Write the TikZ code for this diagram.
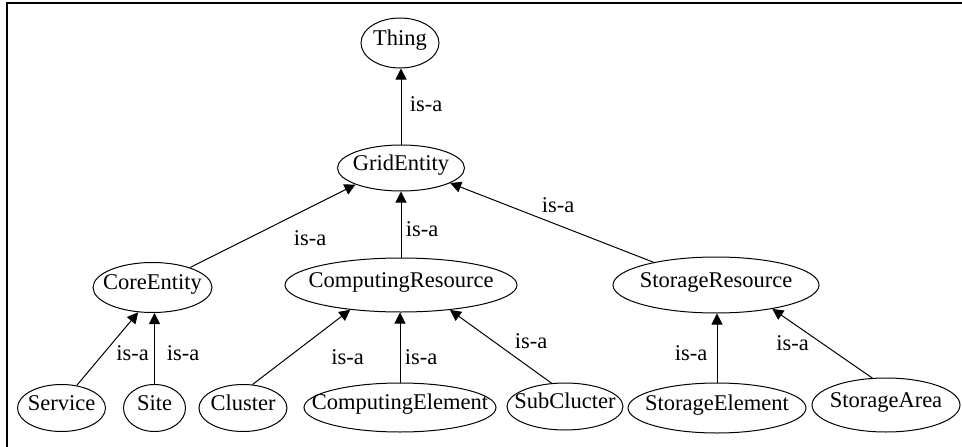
\documentclass[tikz,border=0pt]{standalone}
\usepackage{fontspec}
\setmainfont{Liberation Serif}
\usetikzlibrary{shapes.geometric,arrows.meta}
\tikzset{
  ent/.style={draw, ellipse, line width=1pt, inner sep=0pt, text height=0.68em, text depth=0.22em},
  lbl/.style={inner sep=0pt},
  arr/.style={line width=1pt, -{Triangle[length=11pt,width=11pt]}},
  frame/.style={line width=1.6pt}
}
\begin{document}
\begin{tikzpicture}[x=1pt, y=-1pt, font=\fontsize{22.5}{26}\selectfont]
\useasboundingbox (0,0) rectangle (962,447);
\draw[frame] (7,447) -- (7,3) -- (962,3);
% nodes
\node[ent, minimum width=78pt,  minimum height=50pt] (thing) at (400,43)    {\makebox[0pt]{Thing}};
\node[ent, minimum width=127pt, minimum height=46pt] (grid)  at (401,168)   {\makebox[0pt]{GridEntity}};
\node[ent, minimum width=119pt, minimum height=50pt] (core)  at (152.5,287.5) {\makebox[0pt]{CoreEntity}};
\node[ent, minimum width=232pt, minimum height=54pt] (cr)    at (401,285)   {\makebox[0pt]{ComputingResource}};
\node[ent, minimum width=206pt, minimum height=56pt] (sr)    at (716,285)   {\makebox[0pt]{StorageResource}};
\node[ent, minimum width=88pt,  minimum height=47pt] (service) at (61.5,408) {\makebox[0pt]{Service}};
\node[ent, minimum width=62pt,  minimum height=47pt] (site)  at (154.5,408) {\makebox[0pt]{Site}};
\node[ent, minimum width=88pt,  minimum height=47pt] (cluster) at (243,408) {\makebox[0pt]{Cluster}};
\node[ent, minimum width=192pt, minimum height=49pt] (ce)    at (400,407.5) {\makebox[0pt]{ComputingElement}};
\node[ent, minimum width=116pt, minimum height=47pt] (sub)   at (565,406.5) {\makebox[0pt]{SubClucter}};
\node[ent, minimum width=178pt, minimum height=50pt] (se)    at (717,408)   {\makebox[0pt]{StorageElement}};
\node[ent, minimum width=148pt, minimum height=54pt] (sa)    at (886,405)   {\makebox[0pt]{StorageArea}};
% edges
\draw[arr] (grid.north) -- (grid.north |- thing.south);
\draw[arr] (core.28) -- (grid.200);
\draw[arr] (cr.north) -- (cr.north |- grid.south);
\draw[arr] (sr.160) -- (grid.343);
\draw[arr] (service.56) -- (core.240);
\draw[arr] (site.north) -- (site.north |- core.south);
\draw[arr] (cluster.68) -- (cr.206);
\draw[arr] (ce.north) -- (ce.north |- cr.south);
\draw[arr] (sub.120) -- (cr.333);
\draw[arr] (se.north) -- (se.north |- sr.south);
\draw[arr] (sa.117) -- (sr.337);
% labels
\node[lbl] (l1)  at (426,104) {is-a};
\node[lbl] (l2)  at (310,238) {is-a};
\node[lbl] (l3)  at (422,229) {is-a};
\node[lbl] (l4)  at (558,205) {is-a};
\node[lbl] (l5)  at (132.5,353) {is-a};
\node[lbl] (l6)  at (183,353) {is-a};
\node[lbl] (l7)  at (347.5,357) {is-a};
\node[lbl] (l8)  at (421,357) {is-a};
\node[lbl] (l9)  at (531,341) {is-a};
\node[lbl] (l10) at (691,353) {is-a};
\node[lbl] (l11) at (792.5,343) {is-a};
\end{tikzpicture}
\end{document}
